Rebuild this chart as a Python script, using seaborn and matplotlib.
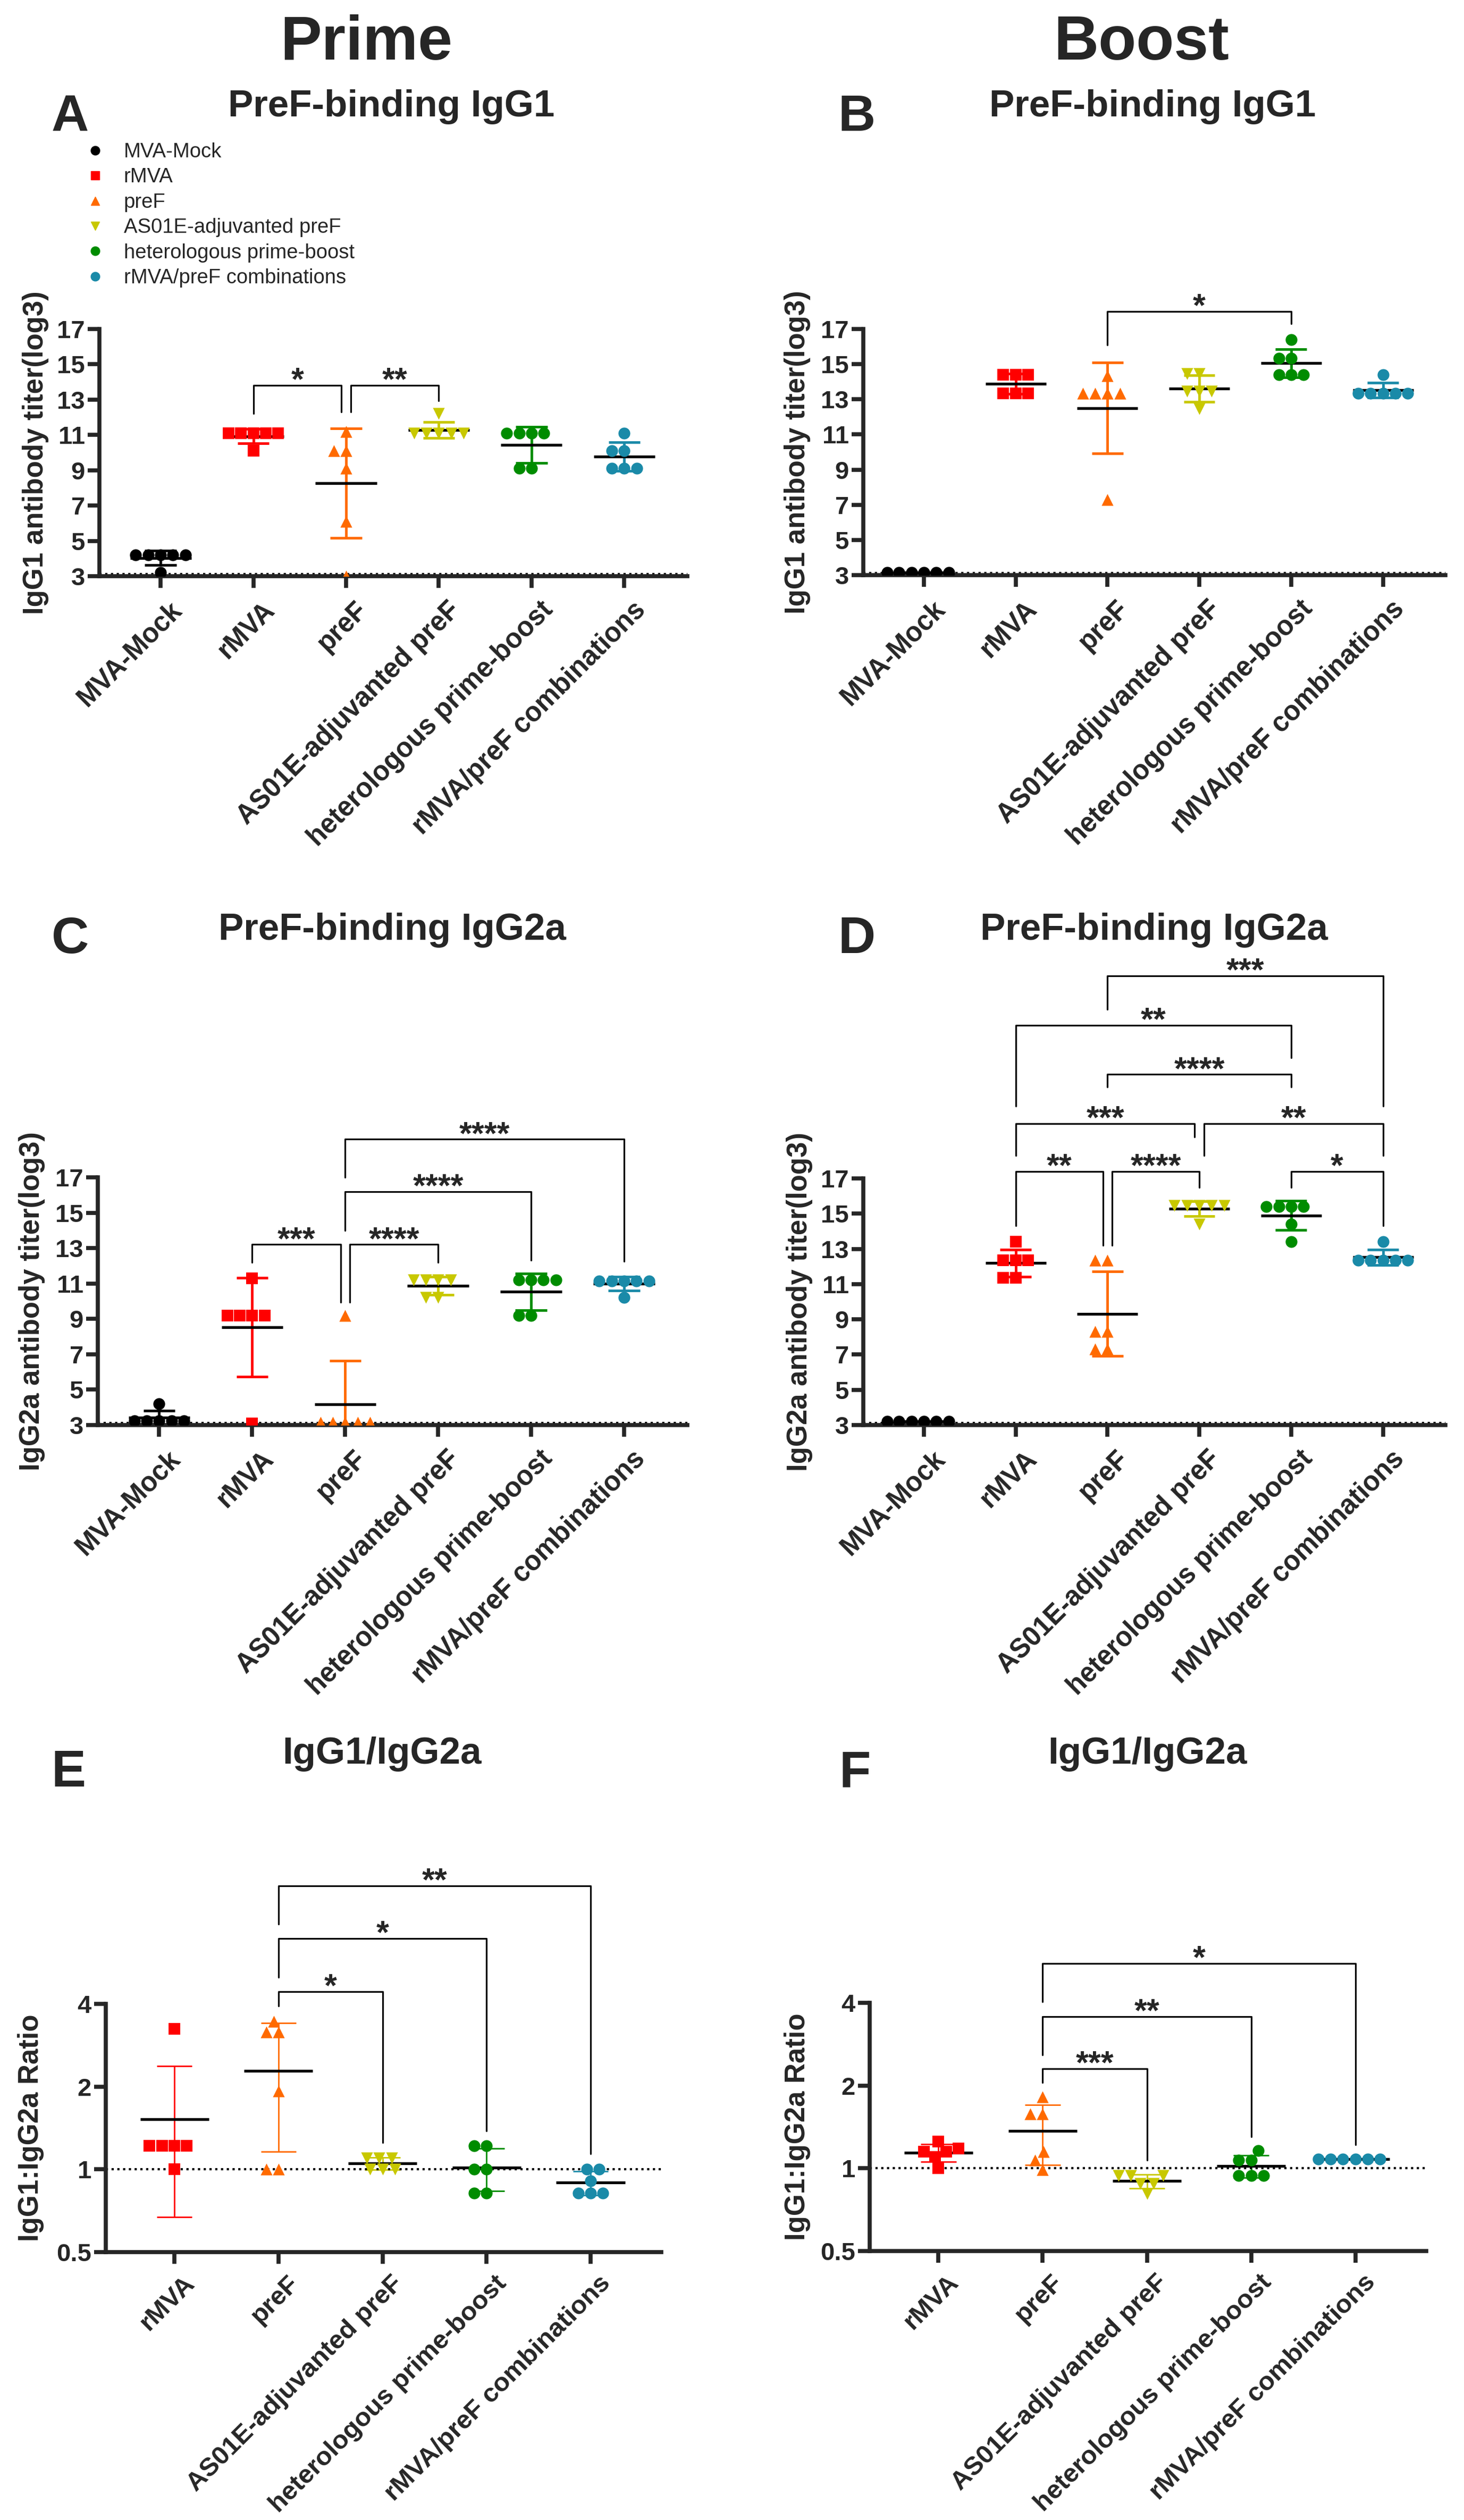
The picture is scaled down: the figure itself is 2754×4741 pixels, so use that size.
import numpy as np
import pandas as pd
import matplotlib
matplotlib.use("Agg")
import matplotlib.pyplot as plt
import matplotlib.transforms as mtransforms
from matplotlib.lines import Line2D
from matplotlib.ticker import NullLocator
import seaborn as sns

#### Data ####
groups = ["MVA-Mock", "rMVA", "preF", "AS01E-adjuvanted preF",
          "heterologous prime-boost", "rMVA/preF combinations"]
group_colors = ["#000000", "#FF0000", "#FF6A00", "#C8C800", "#008C00", "#1A8AA8"]
group_markers = ["o", "s", "^", "v", "o", "o"]

# log3 antibody titers, 6 mice per group (same order as groups)
igg1_prime = [
    [4.2, 4.2, 4.2, 4.2, 4.2, 3.2],
    [11.1, 11.1, 11.1, 11.1, 11.1, 10.1],
    [11.2, 10.1, 10.1, 9.1, 6.1, 3.0],
    [12.2, 11.1, 11.1, 11.1, 11.1, 11.1],
    [11.1, 11.1, 11.1, 11.1, 9.1, 9.1],
    [11.1, 10.1, 10.1, 9.1, 9.1, 9.1],
]
igg1_boost = [
    [3.15, 3.15, 3.15, 3.15, 3.15, 3.15],
    [14.4, 14.4, 14.4, 13.35, 13.35, 13.35],
    [14.35, 13.35, 13.35, 13.35, 13.35, 7.3],
    [14.45, 14.45, 13.45, 13.45, 13.45, 12.45],
    [16.4, 15.35, 15.35, 14.4, 14.4, 14.4],
    [14.4, 13.35, 13.35, 13.35, 13.35, 13.35],
]
igg2a_prime = [
    [4.2, 3.25, 3.25, 3.25, 3.25, 3.25],
    [11.3, 9.2, 9.2, 9.2, 9.2, 3.1],
    [9.2, 3.15, 3.15, 3.15, 3.15, 3.15],
    [11.2, 11.2, 11.2, 11.2, 10.2, 10.2],
    [11.2, 11.2, 11.2, 11.2, 9.2, 9.2],
    [11.15, 11.15, 11.15, 11.15, 11.15, 10.2],
]
igg2a_boost = [
    [3.2, 3.2, 3.2, 3.2, 3.2, 3.2],
    [13.4, 12.35, 12.35, 12.35, 11.35, 11.35],
    [12.35, 12.35, 8.3, 8.3, 7.3, 7.3],
    [15.45, 15.45, 15.45, 15.45, 15.45, 14.4],
    [15.4, 15.4, 15.4, 15.4, 14.4, 13.4],
    [13.4, 12.35, 12.35, 12.35, 12.35, 12.35],
]
# IgG1:IgG2a ratio (no MVA-Mock group)
ratio_prime = [
    [3.25, 1.22, 1.22, 1.22, 1.22, 1.0],
    [3.46, 3.16, 3.16, 1.93, 1.0, 1.0],
    [1.1, 1.1, 1.1, 1.0, 1.0, 1.0],
    [1.22, 1.22, 1.0, 1.0, 0.82, 0.82],
    [1.0, 1.0, 0.91, 0.82, 0.82, 0.82],
]
ratio_boost = [
    [1.25, 1.18, 1.15, 1.15, 1.1, 1.0],
    [1.82, 1.58, 1.58, 1.15, 1.07, 0.99],
    [0.94, 0.94, 0.94, 0.88, 0.88, 0.81],
    [1.16, 1.07, 1.07, 0.94, 0.94, 0.94],
    [1.08, 1.08, 1.08, 1.08, 1.08, 1.08],
]

# significance brackets: (left x, right x, bar y, left leg end, right leg end, label)
sig_a = [(1, 1.95, 13.8, 12.2, 12.3, "*"), (2.05, 3, 13.8, 12.3, 12.95, "**")]
sig_b = [(2, 4, 18.0, 16.1, 17.3, "*")]
sig_c = [(1, 1.95, 13.2, 12.2, 9.95, "***"), (2.05, 3, 13.2, 9.95, 12.2, "****"),
         (2, 4, 16.2, 14.0, 12.3, "****"), (2, 5, 19.15, 17.0, 12.25, "****")]
sig_d = [(1, 1.95, 17.4, 14.3, 13.2, "**"), (2.05, 3, 17.4, 13.2, 16.5, "****"),
         (4, 5, 17.4, 16.5, 14.3, "*"), (1, 2.95, 20.1, 18.3, 19.35, "***"),
         (3.05, 5, 20.1, 18.3, 18.3, "**"), (2, 4, 22.9, 22.2, 22.2, "****"),
         (1, 4, 25.7, 21.1, 23.85, "**"), (2, 5, 28.5, 26.6, 21.1, "***")]
sig_e = [(1, 2, 4.43, 3.93, 1.25, "*"), (1, 3, 6.92, 5.0, 1.38, "*"),
         (1, 4, 10.75, 7.8, 1.14, "**")]
sig_f = [(1, 2, 2.3, 2.05, 1.07, "***"), (1, 3, 3.57, 2.58, 1.30, "**"),
         (1, 4, 5.57, 4.03, 1.22, "*")]

#### Style ####
sns.set_style("ticks")
plt.rcParams["font.family"] = ["Liberation Sans", "DejaVu Sans"]
plt.rcParams["font.weight"] = "bold"

W, H = 2754, 4741
fig = plt.figure(figsize=(W / 100, H / 100), dpi=100)


def add_axes_px(left, top, right, bottom):
    return fig.add_axes([left / W, 1 - bottom / H, (right - left) / W, (bottom - top) / H])


def draw_panel(ax, values, names, colors, marks, ylabel, ylab_x, sigs, log=False):
    df = pd.DataFrame({
        "group": np.repeat(names, [len(v) for v in values]),
        "value": np.concatenate(values),
    })
    if log:
        ax.set_yscale("log", base=2)
        ax.set_ylim(0.5, 4)
    else:
        ax.set_ylim(3, 17)
    ax.set_xlim(-0.66, len(names) - 0.32)

    for i, g in enumerate(names):
        sub = df[df["group"] == g]
        sns.swarmplot(data=sub, x="group", y="value", order=names, color=colors[i],
                      marker=marks[i], size=16, linewidth=0,
                      warn_thresh=1, ax=ax, zorder=4)

    stats = df.groupby("group", sort=False)["value"].agg(["mean", "std"])
    sd_lw = 2.0 if log else 3.5
    for i, g in enumerate(names):
        m, s = stats.loc[g, "mean"], stats.loc[g, "std"]
        ax.vlines(i, m - s, m + s, color=colors[i], lw=sd_lw, zorder=2)
        ax.hlines([m - s, m + s], i - 0.17, i + 0.17, color=colors[i], lw=sd_lw, zorder=2)
        ax.hlines(m, i - 0.33, i + 0.33, color="black", lw=3.8, zorder=3)

    ref_y = 1 if log else 3.12
    ax.axhline(ref_y, color="black", lw=3, ls=(0, (1, 1.6)), zorder=2.5)

    for x1, x2, yb, y1, y2, lab in sigs:
        ax.plot([x1, x1, x2, x2], [y1, yb, yb, y2], color="black", lw=2.3,
                clip_on=False, zorder=5)
        ax.annotate(lab, xy=((x1 + x2) / 2, yb), xytext=(0, -6), textcoords="offset points",
                    ha="center", va="baseline", fontsize=44, annotation_clip=False)

    sns.despine(ax=ax)
    for s in ["left", "bottom"]:
        ax.spines[s].set_linewidth(5.5)
    ax.tick_params(axis="both", width=5.5, length=16, labelsize=34)
    ax.tick_params(axis="x", pad=10 if log else 12)
    if log:
        ax.set_yticks([0.5, 1, 2, 4])
        ax.set_yticklabels(["0.5", "1", "2", "4"])
        ax.yaxis.set_minor_locator(NullLocator())
    else:
        ax.set_yticks(range(3, 18, 2))
    ax.set_xlim(-0.66, len(names) - 0.32)
    ax.set_xticks(range(len(names)))
    ax.set_xticklabels(names, rotation=45, ha="right", va="top", rotation_mode="anchor",
                       fontsize=35.5 if log else 36.5, fontweight="bold")
    offset = mtransforms.ScaledTranslation(0.15, 0, fig.dpi_scale_trans)
    for lbl in ax.get_xticklabels():
        lbl.set_transform(lbl.get_transform() + offset)
    ax.set_xlabel("")
    ax.set_ylabel(ylabel, fontsize=38, fontweight="bold")
    ax.yaxis.set_label_coords(ylab_x, 0.5)


ax_a = add_axes_px(187, 619, 1293, 1084)
ax_b = add_axes_px(1624, 619, 2719, 1082)
ax_c = add_axes_px(184, 2215, 1293, 2681)
ax_d = add_axes_px(1624, 2217, 2719, 2681)
ax_e = add_axes_px(199, 3770, 1244, 4237)
ax_f = add_axes_px(1636, 3768, 2683, 4235)

draw_panel(ax_a, igg1_prime, groups, group_colors, group_markers,
           "IgG1 antibody titer(log3)", -0.086, sig_a)
draw_panel(ax_b, igg1_boost, groups, group_colors, group_markers,
           "IgG1 antibody titer(log3)", -0.090, sig_b)
draw_panel(ax_c, igg2a_prime, groups, group_colors, group_markers,
           "IgG2a antibody titer(log3)", -0.089, sig_c)
draw_panel(ax_d, igg2a_boost, groups, group_colors, group_markers,
           "IgG2a antibody titer(log3)", -0.087, sig_d)
draw_panel(ax_e, ratio_prime, groups[1:], group_colors[1:], group_markers[1:],
           "IgG1:IgG2a Ratio", -0.111, sig_e, log=True)
draw_panel(ax_f, ratio_boost, groups[1:], group_colors[1:], group_markers[1:],
           "IgG1:IgG2a Ratio", -0.106, sig_f, log=True)

# column headers
fig.text(689 / W, 1 - 112 / H, "Prime", ha="center", va="baseline", fontsize=84)
fig.text(2147 / W, 1 - 112 / H, "Boost", ha="center", va="baseline", fontsize=84)

# panel letters and titles
panel_text = [
    ("A", 132, 246, "PreF-binding IgG1", 736, 219),
    ("B", 1612, 246, "PreF-binding IgG1", 2168, 219),
    ("C", 132, 1793, "PreF-binding IgG2a", 738, 1768),
    ("D", 1612, 1793, "PreF-binding IgG2a", 2171, 1768),
    ("E", 129, 3361, "IgG1/IgG2a", 719, 3318),
    ("F", 1608, 3361, "IgG1/IgG2a", 2158, 3318),
]
for letter, lx, ly, title, tx, ty in panel_text:
    fig.text(lx / W, 1 - ly / H, letter, ha="center", va="baseline", fontsize=70)
    fig.text(tx / W, 1 - ty / H, title, ha="center", va="baseline", fontsize=51)

# legend (panel A)
handles = [Line2D([], [], ls="none", marker=m, color=c, markersize=12)
           for m, c in zip(group_markers, group_colors)]
fig.legend(handles, groups, loc="upper left", bbox_to_anchor=(160 / W, 1 - 268 / H),
           frameon=False, prop={"size": 27.5, "weight": "normal"}, handlelength=1.0,
           handletextpad=0.9, labelspacing=0.3, borderpad=0, borderaxespad=0)

fig.savefig("out.png", dpi=100)
plt.close(fig)
